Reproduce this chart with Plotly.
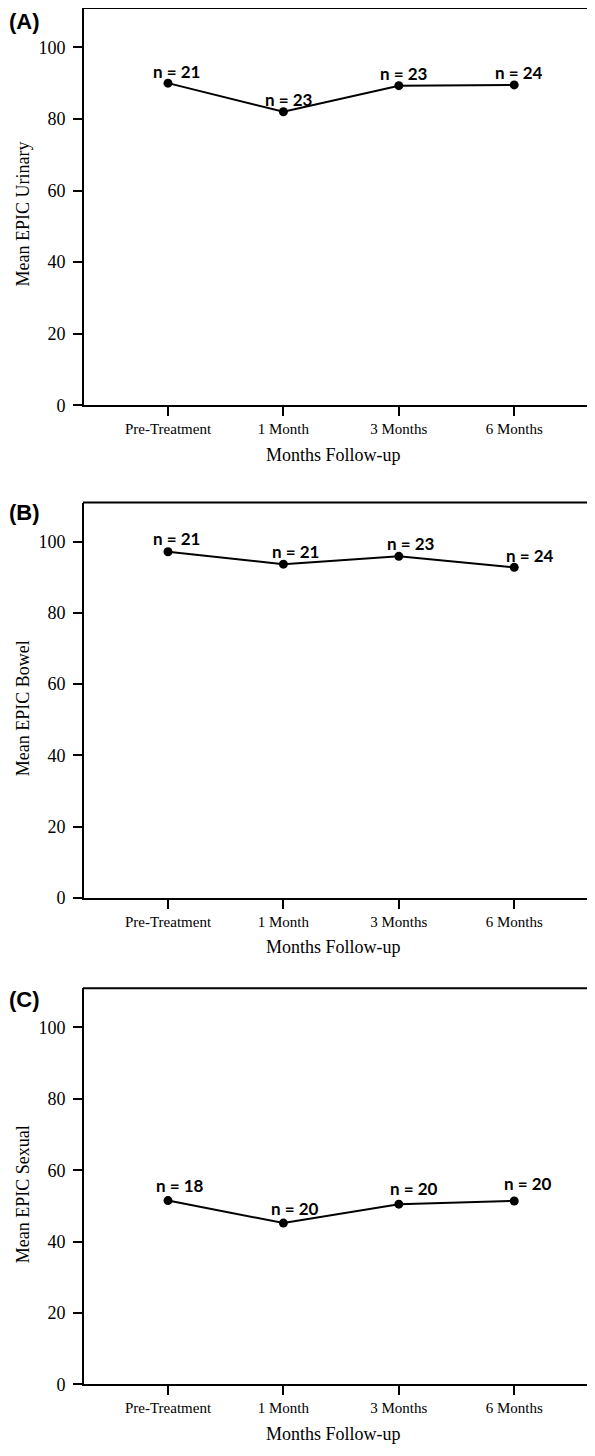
import plotly.graph_objects as go

categories = ["Pre-Treatment", "1 Month", "3 Months", "6 Months"]
urinary = [90.0, 82.0, 89.3, 89.5]
urinary_n = ["n = 21", "n = 23", "n = 23", "n = 24"]
bowel = [97.2, 93.7, 95.9, 92.8]
bowel_n = ["n = 21", "n = 21", "n = 23", "n = 24"]
sexual = [51.5, 45.2, 50.5, 51.4]
sexual_n = ["n = 18", "n = 20", "n = 20", "n = 20"]
y_titles = ["Mean EPIC Urinary", "Mean EPIC Bowel", "Mean EPIC Sexual"]
panel_labels = ["(A)", "(B)", "(C)"]
x_title = "Months Follow-up"
y_ticks = [0, 20, 40, 60, 80, 100]

OFF = 8  # default page body margin
W, H = 595 - OFF, 1456 - OFF


def px(v):
    return v - OFF


# panel pixel geometry in page coordinates (top, bottom of plot area)
panels_px = [(8, 408), (506, 904), (995, 1394)]
left_px = 84
label_shifts = [
    [(8, 12), (6, 12), (5, 12), (5, 12)],
    [(8, 13), (12, 13), (12, 13), (16, 12)],
    [(12, 15), (12, 15), (15, 16), (14, 17)],
]
panel_label_y = [22, 516, 1006]

series = [urinary, bowel, sexual]
ns = [urinary_n, bowel_n, sexual_n]

fig = go.Figure()
serif = "Liberation Serif, Times New Roman, serif"
annotations = []
shapes = []
layout = dict(
    width=W, height=H, margin=dict(l=0, r=0, t=0, b=0),
    paper_bgcolor="white", plot_bgcolor="white", showlegend=False,
)
xr = [-0.728, 3.70]
for i in range(3):
    sfx = "" if i == 0 else str(i + 1)
    top, bot = panels_px[i]
    ydom = [1 - px(bot) / H, 1 - px(top) / H]
    fig.add_trace(go.Scatter(
        x=list(range(4)), y=series[i], mode="lines+markers",
        line=dict(color="black", width=2),
        marker=dict(color="black", size=9),
        xaxis="x" + sfx, yaxis="y" + sfx, cliponaxis=False,
    ))
    layout["xaxis" + sfx] = dict(
        domain=[px(left_px) / W, 1], range=xr, anchor="y" + sfx,
        tickmode="array", tickvals=list(range(4)), ticktext=categories,
        ticks="outside", ticklen=9, tickwidth=2, tickcolor="black",
        showline=True, linecolor="black", linewidth=2, showgrid=False, zeroline=False,
        tickfont=dict(family=serif, size=15, color="black"),
    )
    layout["yaxis" + sfx] = dict(
        domain=ydom, range=[0, 111], anchor="x" + sfx,
        tickmode="array", tickvals=y_ticks,
        ticks="outside", ticklen=9, tickwidth=2, tickcolor="black",
        showline=True, linecolor="black", linewidth=2, showgrid=False, zeroline=False,
        tickfont=dict(family=serif, size=18, color="black"),
        ticklabelstandoff=4,
    )
    # top border
    shapes.append(dict(type="line", xref="paper", yref="paper",
                       x0=(px(left_px) - 1) / W, x1=1, y0=ydom[1], y1=ydom[1],
                       line=dict(color="black", width=2)))
    # n labels
    for j in range(4):
        dx, dy = label_shifts[i][j]
        annotations.append(dict(
            x=j, y=series[i][j], xref="x" + sfx, yref="y" + sfx,
            text="<b>" + ns[i][j] + "</b>", showarrow=False,
            xshift=dx, yshift=dy, yanchor="middle", xanchor="center",
            font=dict(family="Lato, Calibri, sans-serif", size=17, color="black"),
        ))
    # y title
    annotations.append(dict(
        x=px(23) / W, y=1 - px((top + bot + 16) / 2) / H, xref="paper", yref="paper",
        text=y_titles[i], textangle=-90, showarrow=False,
        xanchor="center", yanchor="middle",
        font=dict(family=serif, size=18, color="black"),
    ))
    # x title
    annotations.append(dict(
        x=px(333) / W, y=1 - px(bot + 50) / H, xref="paper", yref="paper",
        text=x_title, showarrow=False, xanchor="center", yanchor="middle",
        font=dict(family=serif, size=18, color="black"),
    ))
    # panel label
    annotations.append(dict(
        x=px(7) / W, y=1 - px(panel_label_y[i]) / H, xref="paper", yref="paper",
        text="<b>" + panel_labels[i] + "</b>", showarrow=False,
        xanchor="left", yanchor="middle",
        font=dict(family="Liberation Sans, Arial, sans-serif", size=22, color="black"),
    ))

layout["annotations"] = annotations
layout["shapes"] = shapes
fig.update_layout(**layout)
fig.write_html("out.html")
